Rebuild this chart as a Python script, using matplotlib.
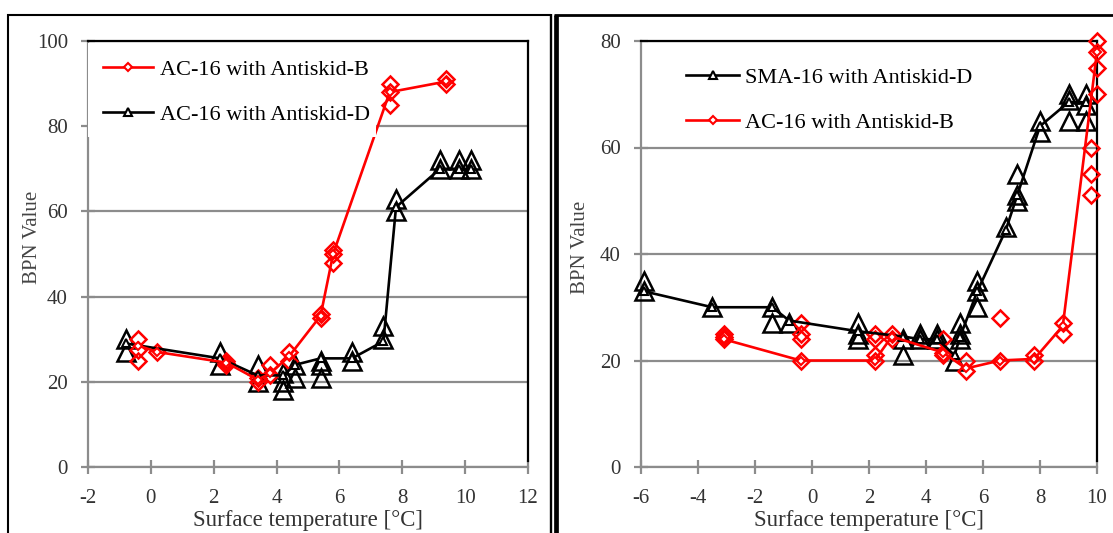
import matplotlib
matplotlib.use("Agg")
import matplotlib.pyplot as plt
from matplotlib.lines import Line2D
from matplotlib.patches import Rectangle

plt.rcParams['font.family'] = ['Liberation Serif', 'DejaVu Serif']
plt.rcParams['axes.unicode_minus'] = False

RED = '#ff0000'
GRID = '#8c8c8c'
TXT = '#333333'

# left chart: AC-16, Antiskid-B (red) vs Antiskid-D (black)
left_b_x = [-0.4, -0.4, -0.4, 0.2, 2.4, 2.4, 2.4, 3.4, 3.4, 3.8, 3.8, 4.4, 4.4,
            5.4, 5.4, 5.8, 5.8, 5.8, 7.6, 7.6, 7.6, 9.4, 9.4]
left_b_y = [30, 27.5, 25, 27, 25, 24.5, 24, 21, 20, 24, 21.5, 27, 25,
            36, 35, 51, 50, 48, 90, 88, 85, 91, 90]
left_b_line_x = [-0.4, 0.2, 2.4, 3.4, 3.8, 4.4, 5.4, 5.8, 7.6, 9.4]
left_b_line_y = [28.5, 27, 24.5, 20.5, 22, 26, 35.5, 50, 88, 90.5]

left_d_x = [-0.8, -0.8, 2.2, 2.2, 3.4, 3.4, 4.2, 4.2, 4.2, 4.6, 4.6, 5.4, 5.4, 5.4,
            6.4, 6.4, 7.4, 7.4, 7.8, 7.8, 9.2, 9.2, 9.8, 9.8, 10.2, 10.2]
left_d_y = [30, 27, 27, 24, 24, 20, 22, 20, 18, 24, 21, 25, 24, 21,
            27, 25, 33, 30, 63, 60, 72, 70, 72, 70, 72, 70]
left_d_line_x = [-0.8, 2.2, 3.4, 4.2, 4.6, 5.4, 6.4, 7.4, 7.8, 9.2, 9.8, 10.2]
left_d_line_y = [29, 25.5, 21.5, 21.5, 24, 25.5, 25.5, 29.5, 61, 70, 70, 70]

# right chart: SMA-16 Antiskid-D (black) vs AC-16 Antiskid-B (red)
right_d_x = [-5.9, -5.9, -3.5, -1.4, -1.4, -0.8, 1.6, 1.6, 1.6, 3.2, 3.2, 3.8, 3.8,
             4.4, 4.4, 5.0, 5.2, 5.2, 5.2, 5.8, 5.8, 5.8, 6.8, 7.2, 7.2, 7.2,
             8.0, 8.0, 9.0, 9.0, 9.0, 9.6, 9.6, 9.6]
right_d_y = [35, 33, 30, 30, 27, 27, 27, 25, 24, 24, 21, 25, 24,
             25, 24, 20, 27, 25, 24, 35, 33, 30, 45, 55, 51, 50,
             65, 63, 70, 69, 65, 70, 68, 65]
right_d_line_x = [-5.9, -3.5, -1.4, -0.8, 1.6, 3.2, 3.8, 4.4, 5.0, 5.2, 5.8, 6.8,
                  7.2, 8.0, 9.0, 9.6]
right_d_line_y = [33, 30, 30, 27.5, 25.5, 24.5, 24, 24, 21, 24.5, 33, 44.5,
                  51, 64, 68.5, 68.5]

right_b_x = [-3.1, -3.1, -3.1, -0.4, -0.4, -0.4, -0.4, 2.2, 2.2, 2.2, 2.2, 2.8, 2.8,
             4.6, 4.6, 4.6, 5.4, 5.4, 6.6, 6.6, 7.8, 7.8, 8.8, 8.8,
             9.8, 9.8, 9.8, 10, 10, 10, 10]
right_b_y = [25, 24.5, 24, 27, 25, 24, 20, 25, 24, 21, 20, 25, 24,
             24, 21.5, 21, 20, 18, 28, 20, 21, 20, 27, 25,
             60, 55, 51, 80, 78, 75, 70]
right_b_line_x = [-3.1, -0.4, 2.2, 2.8, 4.6, 5.4, 6.6, 7.8, 8.8, 10.0]
right_b_line_y = [24, 20, 20, 24.5, 21.5, 18.5, 20, 20.3, 26.5, 78]

W, H = 1113, 533


def px_box(x0, x1, y_top, y_bot):
    return [x0 / W, 1 - y_bot / H, (x1 - x0) / W, (y_bot - y_top) / H]


def style_axes(ax, xlim, ylim, xticks, yticks):
    ax.set_xlim(*xlim)
    ax.set_ylim(*ylim)
    ax.set_xticks(xticks)
    ax.set_yticks(yticks)
    for s in ('left', 'bottom'):
        ax.spines[s].set_color(GRID)
        ax.spines[s].set_linewidth(1.6)
    for s in ('top', 'right'):
        ax.spines[s].set_color('black')
        ax.spines[s].set_linewidth(1.6)
    ax.spines['right'].set_bounds(ylim[1] * 0.015, ylim[1])
    ax.tick_params(direction='inout', length=10, width=1.6, color=GRID,
                   labelsize=15, labelcolor=TXT)
    ax.tick_params(axis='x', pad=11)
    ax.tick_params(axis='y', pad=9.5)
    ax.grid(axis='y', color=GRID, linewidth=1.6)
    ax.set_axisbelow(True)
    ax.set_xlabel('Surface temperature [°C]', fontsize=16.5, color=TXT)
    ax.xaxis.set_label_coords(0.5, -0.102)
    ax.set_ylabel('BPN Value', fontsize=15, color='#444444')


def draw_series(ax, sx, sy, lx, ly, color, marker, ms, label):
    ax.plot(sx, sy, linestyle='none', marker=marker, ms=ms, mfc='none',
            mec=color, mew=1.8, clip_on=False, zorder=3)
    ax.plot(lx, ly, color=color, lw=1.9, marker=marker, ms=ms * 0.45,
            mfc='white', mec=color, mew=1.5, clip_on=False, zorder=4,
            label=label)


fig = plt.figure(figsize=(W / 100, H / 100), dpi=100)

ax1 = fig.add_axes(px_box(88, 528, 41, 467))
style_axes(ax1, (-2, 12), (0, 100), range(-2, 13, 2), range(0, 101, 20))
draw_series(ax1, left_d_x, left_d_y, left_d_line_x, left_d_line_y,
            'black', '^', 13, 'AC-16 with Antiskid-D')
draw_series(ax1, left_b_x, left_b_y, left_b_line_x, left_b_line_y,
            RED, 'D', 8.5, 'AC-16 with Antiskid-B')
# white legend area, as in the source chart
ax1.add_patch(Rectangle((0, (467 - 137) / 426), (376 - 88) / 440,
                        (137 - 43) / 426, transform=ax1.transAxes,
                        facecolor='white', edgecolor='none', zorder=5))
h, l = ax1.get_legend_handles_labels()
leg1 = ax1.legend(h[::-1], l[::-1], loc='upper left',
                  bbox_to_anchor=((103 - 88) / 440, (467 - 59) / 426),
                  borderaxespad=0, borderpad=0, handlelength=2.25,
                  handletextpad=0.32, labelspacing=1.1, fontsize=16,
                  frameon=False)
leg1.set_zorder(6)
ax1.yaxis.set_label_coords(-0.105, 0.54)

ax2 = fig.add_axes(px_box(641, 1097, 41, 467))
style_axes(ax2, (-6, 10), (0, 80), range(-6, 11, 2), range(0, 81, 20))
draw_series(ax2, right_d_x, right_d_y, right_d_line_x, right_d_line_y,
            'black', '^', 13, 'SMA-16 with Antiskid-D')
draw_series(ax2, right_b_x, right_b_y, right_b_line_x, right_b_line_y,
            RED, 'D', 8.5, 'AC-16 with Antiskid-B')
ax2.legend(loc='upper left', bbox_to_anchor=((686 - 641) / 456, (467 - 67) / 426),
           borderaxespad=0, borderpad=0, handlelength=2.4, handletextpad=0.25,
           labelspacing=1.13, fontsize=16, frameon=False)
ax2.yaxis.set_label_coords(-0.112, 0.516)

# panel frames
def fig_line(xs, ys, lw):
    fig.add_artist(Line2D([x / W for x in xs], [1 - y / H for y in ys],
                          color='black', lw=lw, transform=fig.transFigure,
                          solid_capstyle='butt'))

fig_line([8, 8], [533, 14], 1.5)
fig_line([7.3, 551], [15, 15], 1.5)
fig_line([550.5, 550.5], [14.3, 533], 1.7)
fig_line([555.6, 555.6], [533, 15], 3.4)
fig_line([554, 1113], [14.5, 14.5], 2.0)

fig.savefig('out.png', dpi=100)
